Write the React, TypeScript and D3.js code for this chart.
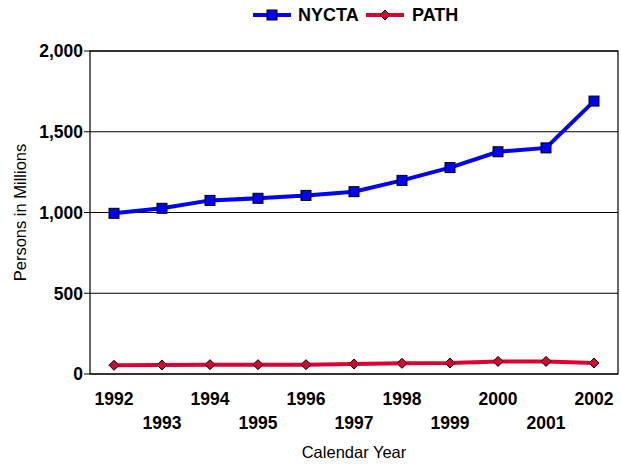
import React from "react";
import * as d3 from "d3";

const years = ["1992","1993","1994","1995","1996","1997","1998","1999","2000","2001","2002"];
const nycta = [995, 1026, 1075, 1088, 1106, 1129, 1199, 1278, 1376, 1400, 1690];
const pathVals = [54, 56, 58, 58, 58, 62, 66, 68, 78, 78, 68];
const yTicks = [0, 500, 1000, 1500, 2000];

const W = 621, H = 464;
const M = { left: 90, right: 618, top: 51, bottom: 374 };
const FONT = "'Liberation Sans', Arial, sans-serif";

export default function App() {
  const x = d3.scaleBand<string>().domain(years).range([M.left, M.right]);
  const y = d3.scaleLinear().domain([0, 2000]).range([M.bottom, M.top]);
  const cx = (d: string) => (x(d) as number) + x.bandwidth() / 2;
  const line = d3.line<number>().x((_, i) => cx(years[i])).y((v) => y(v));
  const fmt = d3.format(",");

  const square = (px: number, py: number, k: string | number) => (
    <rect key={k} x={px - 5} y={py - 5} width={10} height={10} fill="#0000ff" stroke="#000" strokeWidth={1} />
  );
  const diamond = (px: number, py: number, k: string | number) => (
    <path key={k} d={`M${px},${py - 5}L${px + 5},${py}L${px},${py + 5}L${px - 5},${py}Z`} fill="#dc0032" stroke="#000" strokeWidth={1} />
  );

  return (
    <svg width={W} height={H} style={{ position: "absolute", left: 0, top: 0, background: "#fff" }} fontFamily={FONT}>
      {yTicks.map((t) => (
        <line key={t} x1={M.left - 6} x2={M.right} y1={y(t)} y2={y(t)} stroke="#000" strokeWidth={1.2} />
      ))}
      <rect x={M.left} y={M.top} width={M.right - M.left} height={M.bottom - M.top} fill="none" stroke="#000" strokeWidth={1.2} />
      {yTicks.map((t) => (
        <text key={t} x={M.left - 7} y={y(t)} dy="0.36em" textAnchor="end" fontWeight="bold" fontSize={17.5}>{fmt(t)}</text>
      ))}
      {years.map((d, i) => (
        <text key={d} x={cx(d)} y={i % 2 === 0 ? 405 : 429} textAnchor="middle" fontWeight="bold" fontSize={17.5}>{d}</text>
      ))}
      <text x={354} y={458} textAnchor="middle" fontSize={16.5}>Calendar Year</text>
      <text transform={`translate(26,${(M.top + M.bottom) / 2}) rotate(-90)`} textAnchor="middle" fontSize={16.5}>Persons in Millions</text>

      <path d={line(pathVals) as string} fill="none" stroke="#dc0032" strokeWidth={4} />
      {pathVals.map((v, i) => diamond(cx(years[i]), y(v), i))}
      <path d={line(nycta) as string} fill="none" stroke="#0000ff" strokeWidth={4} />
      {nycta.map((v, i) => square(cx(years[i]), y(v), i))}

      <line x1={253} x2={291} y1={15} y2={15} stroke="#0000ff" strokeWidth={4} />
      {square(272, 15, "lg1")}
      <text x={298} y={15} dy="0.36em" fontWeight="bold" fontSize={18}>NYCTA</text>
      <line x1={366} x2={404} y1={15} y2={15} stroke="#dc0032" strokeWidth={4} />
      {diamond(385, 15, "lg2")}
      <text x={412} y={15} dy="0.36em" fontWeight="bold" fontSize={18}>PATH</text>
    </svg>
  );
}
